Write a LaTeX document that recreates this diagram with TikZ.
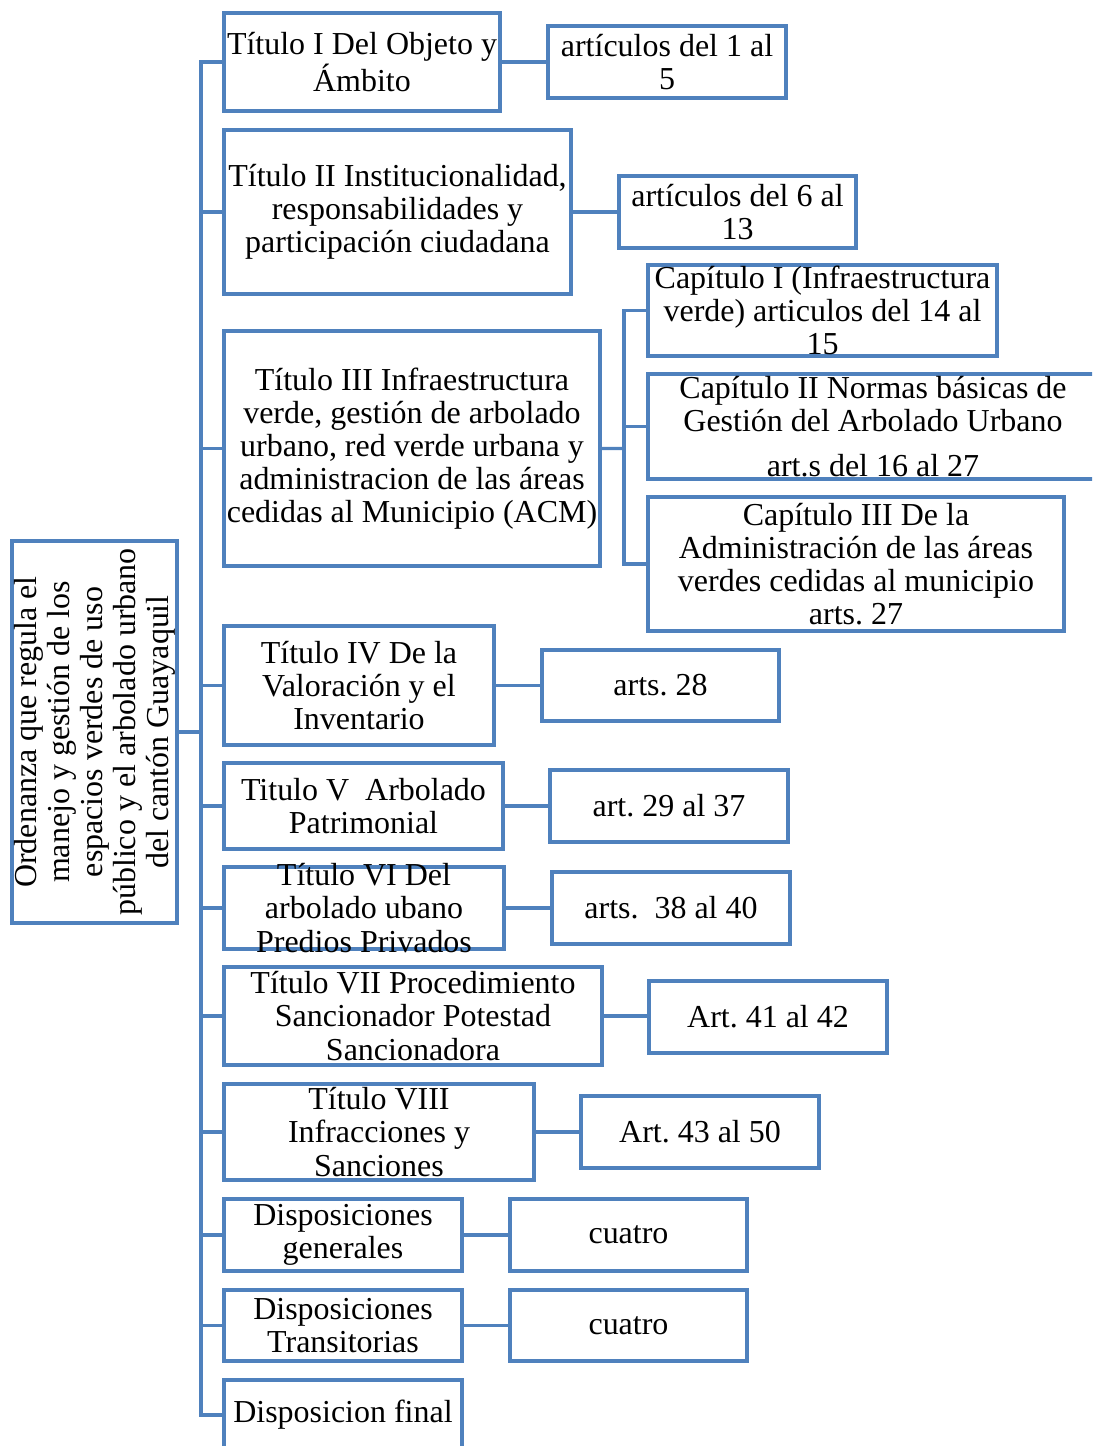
\documentclass[tikz,border=0pt]{standalone}
\usepackage{fontspec}
\setmainfont{Liberation Serif}
\usetikzlibrary{fit}
\frenchspacing
\definecolor{azul}{RGB}{79,129,189}
\tikzset{
  caja/.style={draw=azul, line width=1.8pt, inner sep=0pt},
  texto/.style={align=center, inner sep=0pt, font=\fontsize{18.2}{18.8}\selectfont},
  rama/.style={draw=azul, line width=1.8pt},
}
% caja de esquinas dadas, texto centrado encima
\newcommand{\bloque}[4]{%
  \node[caja, fit={(#2) (#3)}] (#1) {};
  \node[texto] (#1txt) at (#1) {#4};}

\begin{document}
\begin{tikzpicture}[x=0.02cm, y=-0.02cm]
\path[use as bounding box, clip] (0,0) rectangle (1092,1446);

% raiz
\node[caja, fit={(12,541) (177,923)}] (ord) {};
\node[texto, rotate=90] (ordtxt) at (ord) {Ordenanza que regula el\\manejo y gestión de los\\espacios verdes de uso\\público y el arbolado urbano\\del cantón Guayaquil};

% titulos
\bloque{t1}{224,13}{500,111}{Título I Del Objeto y\\Ámbito}
\bloque{t2}{224,130}{571,294}{Título II Institucionalidad,\\responsabilidades y\\participación ciudadana}
\bloque{t3}{224,331}{600,566}{Título III Infraestructura\\verde, gestión de arbolado\\urbano, red verde urbana y\\administracion de las áreas\\cedidas al Municipio (ACM)}
\bloque{t4}{224,626}{494,745}{Título IV De la\\Valoración y el\\Inventario}
\bloque{t5}{224,763}{503,849}{Titulo V~ Arbolado\\Patrimonial}
\bloque{t6}{224,867}{504,949}{Título VI Del\\arbolado ubano\\Predios Privados}
\bloque{t7}{224,967}{602,1065}{Título VII Procedimiento\\Sancionador Potestad\\Sancionadora}
\bloque{t8}{224,1084}{534,1180}{Título VIII\\Infracciones y\\Sanciones}
\bloque{dg}{224,1199}{462,1271}{Disposiciones\\generales}
\bloque{dt}{224,1290}{462,1361}{Disposiciones\\Transitorias}
\bloque{df}{224,1380}{462,1450}{Disposicion final}

% articulos
\bloque{a1}{548,26}{786,98}{artículos del 1 al\\5}
\bloque{a2}{619,176}{856,248}{artículos del 6 al\\13}
\bloque{c1}{648,265}{997,356}{Capítulo I (Infraestructura\\verde) articulos del 14 al\\15}
\bloque{c2}{648,374}{1098,479}{Capítulo II Normas básicas de\\Gestión del Arbolado Urbano\\[6.8pt]art.s del 16 al 27}
\bloque{c3}{648,497}{1064,631}{Capítulo III De la\\Administración de las áreas\\verdes cedidas al municipio\\arts. 27}
\bloque{a4}{542,650}{779,721}{arts. 28}
\bloque{a5}{550,770}{788,842}{art. 29 al 37}
\bloque{a6}{552,872}{790,944}{arts.~ 38 al 40}
\bloque{a7}{649,981}{887,1053}{Art. 41 al 42}
\bloque{a8}{581,1096}{819,1168}{Art. 43 al 50}
\bloque{cg}{510,1199}{747,1271}{cuatro}
\bloque{ct}{510,1290}{747,1361}{cuatro}

% conectores
\coordinate (eje) at (201,732);
\draw[rama] (ord.east) -- (eje);
\foreach \n in {t1,t2,t3,t4,t5,t6,t7,t8,dg,dt,df}
  \draw[rama] (eje) |- (\n.west);

\coordinate (eje3) at (624,448.5);
\draw[rama] (t3.east) -- (eje3);
\foreach \n in {c1,c2,c3}
  \draw[rama] (eje3) |- (\n.west);

\foreach \a/\b in {t1/a1,t2/a2,t4/a4,t5/a5,t6/a6,t7/a7,t8/a8,dg/cg,dt/ct}
  \draw[rama] (\a.east) -- (\a.east -| \b.west);

\end{tikzpicture}
\end{document}
